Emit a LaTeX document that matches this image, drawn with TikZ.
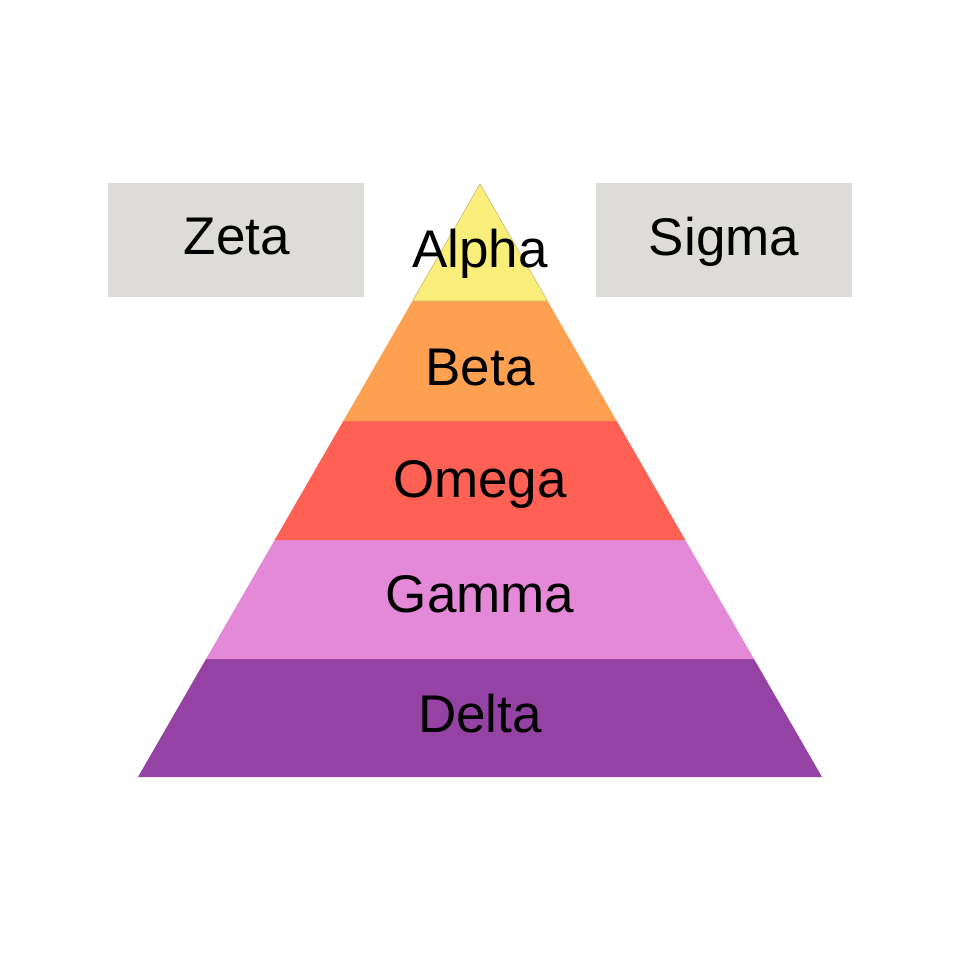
\documentclass[tikz,border=0pt]{standalone}
\usepackage{fontspec}
\setmainfont{Liberation Sans}
\definecolor{cyel}{RGB}{249,238,122}
\definecolor{cyelline}{RGB}{205,185,110}
\definecolor{cora}{RGB}{253,160,82}
\definecolor{cred}{RGB}{255,96,84}
\definecolor{cpink}{RGB}{228,137,216}
\definecolor{cpur}{RGB}{149,66,165}
\definecolor{cgrey}{RGB}{222,220,216}
\begin{document}
\begin{tikzpicture}[x=1pt,y=-1pt,
  lbl/.style={anchor=base,inner sep=0pt,font=\fontsize{53}{60}\selectfont},
  sidebox/.style={fill=cgrey,draw=none,minimum width=256pt,minimum height=114pt,inner sep=0pt}]
\useasboundingbox (0,0) rectangle (960,960);
\fill[white] (0,0) rectangle (960,960);
% layers
\fill[cpur] (206,659) -- (754,659) -- (822,777) -- (138,777) -- cycle;
\fill[cpink] (274.7,540) -- (685.3,540) -- (754,659) -- (206,659) -- cycle;
\fill[cred] (343.3,421) -- (616.7,421) -- (685.3,540) -- (274.7,540) -- cycle;
\fill[cora] (412.5,301) -- (547.5,301) -- (616.7,421) -- (343.3,421) -- cycle;
\filldraw[fill=cyel,draw=cyelline,line width=0.6pt] (480,184) -- (547.5,301) -- (412.5,301) -- cycle;
% labels
\node[lbl] (alpha) at (480,267) {Alpha};
\node[lbl] (beta) at (480,385) {Beta};
\node[lbl] (omega) at (480,497) {Omega};
\node[lbl] (gamma) at (480,612) {Gamma};
\node[lbl] (delta) at (480,732) {Delta};
% side boxes
\node[sidebox] (zetabox) at (236,240) {};
\node[sidebox] (sigmabox) at (724,240) {};
\node[lbl] (zeta) at (237,254) {Zeta};
\node[lbl] (sigma) at (724,255) {Sigma};
\end{tikzpicture}
\end{document}
